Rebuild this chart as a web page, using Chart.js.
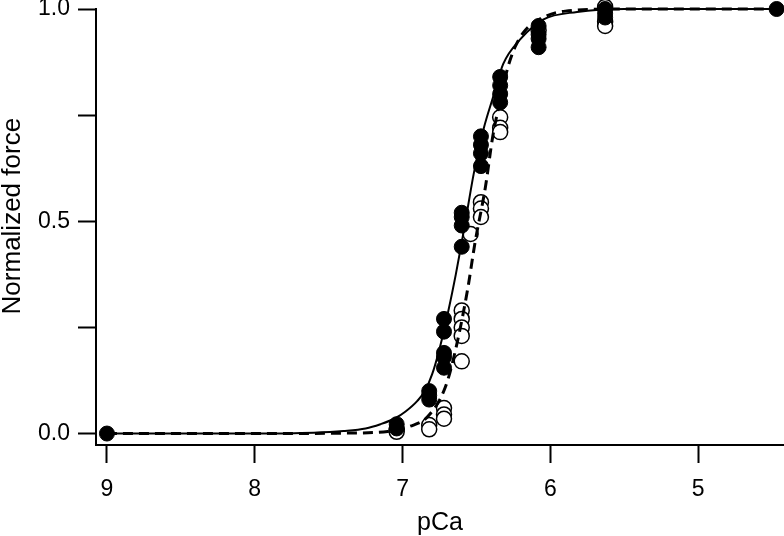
<!DOCTYPE html>
<html>
<head>
    <meta charset="UTF-8">
    <title>pCa - force</title>
    <script src="https://cdn.jsdelivr.net/npm/chart.js"></script>
    <style>
        html, body { margin: 0; padding: 0; background: white; overflow: hidden; }
        #wrap { position: relative; width: 784px; height: 536px; }
        canvas { display: block; }
    </style>
</head>
<body>
<div id="wrap"><canvas id="forceChart"></canvas></div>
<script>
    // pontos medidos (cheios)
    var filledPCa = [9.0, 7.04, 7.04, 6.82, 6.82, 6.82, 6.72, 6.72, 6.72, 6.72, 6.72,
                     6.60, 6.60, 6.60, 6.60, 6.47, 6.47, 6.47, 6.47,
                     6.34, 6.34, 6.34, 6.34, 6.08, 6.08, 6.08, 6.08, 5.63, 5.63, 5.63, 4.47];
    var filledForce = [0.0, 0.022, 0.012, 0.10, 0.09, 0.08, 0.27, 0.24, 0.19, 0.18, 0.155,
                       0.52, 0.51, 0.49, 0.44, 0.70, 0.68, 0.66, 0.63,
                       0.84, 0.82, 0.80, 0.78, 0.96, 0.94, 0.93, 0.91, 1.0, 0.99, 0.98, 1.0];

    // pontos medidos (vazios)
    var openPCa = [7.04, 7.04, 6.82, 6.82, 6.72, 6.72, 6.72,
                   6.60, 6.60, 6.60, 6.60, 6.60, 6.54, 6.47, 6.47, 6.47,
                   6.34, 6.34, 6.34, 6.08, 5.63, 5.63, 5.63];
    var openForce = [0.01, 0.004, 0.02, 0.01, 0.06, 0.045, 0.035,
                     0.29, 0.27, 0.25, 0.23, 0.17, 0.47, 0.545, 0.53, 0.51,
                     0.745, 0.72, 0.71, 0.95, 1.005, 0.97, 0.96];

    // curvas ajustadas
    var solidPCa = [9.0, 8.0, 7.6, 7.4, 7.25, 7.15, 7.05, 6.98, 6.90, 6.85, 6.80, 6.75, 6.69,
                    6.64, 6.60, 6.56, 6.52, 6.45, 6.39, 6.32, 6.20, 6.05, 5.82, 5.5, 4.42];
    var solidForce = [0, 0, 0.002, 0.006, 0.012, 0.022, 0.036, 0.052, 0.077, 0.10, 0.14, 0.20, 0.29,
                      0.375, 0.45, 0.53, 0.61, 0.72, 0.79, 0.87, 0.93, 0.975, 0.993, 1.0, 1.0];

    var dashedPCa = [9.0, 8.0, 7.4, 7.1, 6.95, 6.83, 6.71, 6.64, 6.56, 6.51, 6.44, 6.39,
                     6.33, 6.29, 6.24, 6.17, 6.05, 5.9, 5.5, 4.42];
    var dashedForce = [0, 0, 0.001, 0.005, 0.017, 0.04, 0.11, 0.2, 0.34, 0.45, 0.58, 0.70,
                       0.80, 0.86, 0.91, 0.95, 0.98, 0.995, 1.0, 1.0];

    // ticks
    var xTicks = [9, 8, 7, 6, 5];
    var yTicks = [0, 0.25, 0.5, 0.75, 1.0];
    var yTickLabels = ['0.0', '', '0.5', '', '1.0'];

    function toPoints(xs, ys) {
        return xs.map(function(x, i) { return { x: x, y: ys[i] }; });
    }

    var fontFamily = '"Liberation Sans", Arial, sans-serif';

    var ctx = document.getElementById('forceChart').getContext('2d');
    var forceChart = new Chart(ctx, {
        type: 'scatter',
        data: {
            datasets: [
                {
                    label: 'ajuste 1',
                    type: 'line',
                    data: toPoints(solidPCa, solidForce),
                    borderColor: 'black',
                    borderWidth: 2,
                    pointRadius: 0,
                    cubicInterpolationMode: 'monotone',
                    fill: false,
                    clip: false,
                    order: 1
                },
                {
                    label: 'ajuste 2',
                    type: 'line',
                    data: toPoints(dashedPCa, dashedForce),
                    borderColor: 'black',
                    borderWidth: 3,
                    borderDash: [10, 6],
                    pointRadius: 0,
                    cubicInterpolationMode: 'monotone',
                    fill: false,
                    clip: false,
                    order: 2
                },
                {
                    label: 'cheios',
                    data: toPoints(filledPCa, filledForce),
                    backgroundColor: 'black',
                    borderColor: 'black',
                    borderWidth: 1,
                    pointRadius: 7.5,
                    clip: false,
                    order: 3
                },
                {
                    label: 'vazios',
                    data: toPoints(openPCa, openForce),
                    backgroundColor: 'white',
                    borderColor: 'black',
                    borderWidth: 1.5,
                    pointRadius: 7.5,
                    clip: false,
                    order: 4
                }
            ]
        },
        options: {
            responsive: true,
            maintainAspectRatio: false,
            animation: false,
            layout: { padding: 0, autoPadding: false },
            plugins: {
                legend: { display: false },
                tooltip: { enabled: false }
            },
            scales: {
                x: {
                    type: 'linear',
                    reverse: true,
                    min: 4.42,
                    max: 9.074,
                    afterBuildTicks: function(scale) {
                        scale.ticks = xTicks.map(function(v) { return { value: v }; });
                    },
                    afterFit: function(scale) {
                        scale.height = 91;
                        scale.paddingLeft = 0;
                        scale.paddingRight = 0;
                    },
                    ticks: {
                        color: 'black',
                        padding: 13,
                        maxRotation: 0,
                        font: { family: fontFamily, size: 23 },
                        callback: function(v) { return String(v); }
                    },
                    grid: {
                        display: true,
                        drawOnChartArea: false,
                        drawTicks: true,
                        tickLength: 18,
                        tickWidth: 2,
                        tickColor: 'black'
                    },
                    border: { display: true, color: 'black', width: 2 },
                    title: {
                        display: true,
                        text: 'pCa',
                        color: 'black',
                        font: { family: fontFamily, size: 25, lineHeight: 1 },
                        padding: { top: 0, bottom: 0 }
                    }
                },
                y: {
                    type: 'linear',
                    min: -0.027,
                    max: 1.0,
                    afterBuildTicks: function(scale) {
                        scale.ticks = yTicks.map(function(v) { return { value: v }; });
                    },
                    afterFit: function(scale) {
                        scale.width = 96;
                        scale.paddingTop = 9;
                        scale.paddingBottom = 0;
                    },
                    ticks: {
                        color: 'black',
                        padding: 8,
                        font: { family: fontFamily, size: 23 },
                        callback: function(v) {
                            var i = yTicks.indexOf(v);
                            return i >= 0 ? yTickLabels[i] : '';
                        }
                    },
                    grid: {
                        display: true,
                        drawOnChartArea: false,
                        drawTicks: true,
                        tickLength: 18,
                        tickWidth: 2,
                        tickColor: 'black'
                    },
                    border: { display: true, color: 'black', width: 2 },
                    title: {
                        display: true,
                        text: '   Normalized force',
                        color: 'black',
                        font: { family: fontFamily, size: 26, lineHeight: 1 },
                        padding: { top: 0, bottom: 0 }
                    }
                }
            }
        }
    });
</script>
</body>
</html>
